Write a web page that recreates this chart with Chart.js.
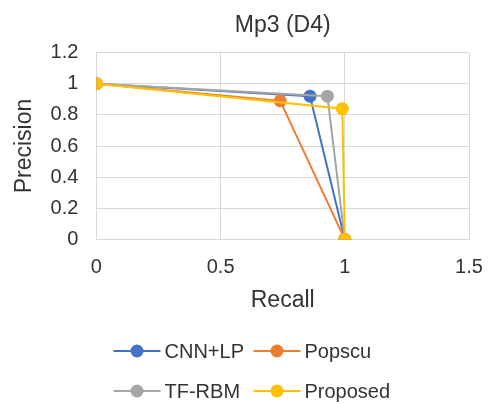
<!DOCTYPE html>
<html>
<head>
<meta charset="utf-8">
<script src="https://cdn.jsdelivr.net/npm/chart.js@4.4.0/dist/chart.umd.min.js"></script>
<style>
html, body { margin: 0; padding: 0; background: #fff; }
#wrap { width: 491px; height: 404px; }
</style>
</head>
<body>
<div id="wrap"><canvas id="myChart"></canvas></div>
<script>
// series names and colours (Excel default palette)
const seriesNames = ['CNN+LP', 'Popscu', 'TF-RBM', 'Proposed'];
const seriesColors = ['#4472C4', '#ED7D31', '#A5A5A5', '#FFC000'];

// recall / precision per series
const recallCNN = [0, 0.86, 1];
const precisionCNN = [1, 0.92, 0];
const recallPopscu = [0, 0.74, 1];
const precisionPopscu = [1, 0.89, 0];
const recallTFRBM = [0, 0.93, 1];
const precisionTFRBM = [1, 0.92, 0];
const recallProposed = [0, 0.99, 1];
const precisionProposed = [1, 0.84, 0];

// axis tick labels
const xTickLabels = ['0', '0.5', '1', '1.5'];
const yTickLabels = ['0', '0.2', '0.4', '0.6', '0.8', '1', '1.2'];

const textColor = '#333333';
const fontFamily = '"Liberation Sans", Arial, sans-serif';
Chart.defaults.font.family = fontFamily;
Chart.defaults.color = textColor;

const recalls = [recallCNN, recallPopscu, recallTFRBM, recallProposed];
const precisions = [precisionCNN, precisionPopscu, precisionTFRBM, precisionProposed];

const datasets = seriesNames.map((name, i) => ({
    label: name,
    data: recalls[i].map((r, j) => ({ x: r, y: precisions[i][j] })),
    showLine: true,
    borderColor: seriesColors[i],
    backgroundColor: seriesColors[i],
    borderWidth: 2,
    pointRadius: 6.5,
    pointBorderWidth: 0,
    pointHoverRadius: 6.5,
    order: seriesNames.length - 1 - i // later series on top, like Excel
}));

// legend drawn as a 2x2 grid, line + marker like Excel
const gridLegend = {
    id: 'gridLegend',
    afterDraw(chart) {
        const ctx = chart.ctx;
        const colW = 140;
        const left = chart.width / 2 - 132;
        const rowsY = [chart.height - 53, chart.height - 13];
        ctx.save();
        ctx.font = '20px ' + fontFamily;
        ctx.textBaseline = 'middle';
        ctx.textAlign = 'left';
        seriesNames.forEach((name, i) => {
            const x = left + (i % 2) * colW;
            const y = rowsY[Math.floor(i / 2)];
            ctx.strokeStyle = seriesColors[i];
            ctx.lineWidth = 2;
            ctx.beginPath();
            ctx.moveTo(x, y);
            ctx.lineTo(x + 47, y);
            ctx.stroke();
            ctx.fillStyle = seriesColors[i];
            ctx.beginPath();
            ctx.arc(x + 23.5, y, 6.5, 0, Math.PI * 2);
            ctx.fill();
            ctx.fillStyle = textColor;
            ctx.fillText(name, x + 51, y + 1);
        });
        ctx.restore();
    }
};

const ctx = document.getElementById('myChart').getContext('2d');
new Chart(ctx, {
    type: 'scatter',
    data: { datasets: datasets },
    options: {
        responsive: true,
        maintainAspectRatio: false,
        animation: false,
        layout: {
            padding: { left: 7, right: 22, top: 12, bottom: 90 }
        },
        plugins: {
            legend: { display: false },
            tooltip: { enabled: false },
            title: {
                display: true,
                text: 'Mp3 (D4)',
                fullSize: false,
                color: textColor,
                font: { size: 23, weight: 'normal' },
                padding: { top: 0, bottom: 13 }
            }
        },
        scales: {
            x: {
                type: 'linear',
                min: 0,
                max: 1.5,
                ticks: {
                    stepSize: 0.5,
                    padding: 1,
                    font: { size: 20 },
                    color: textColor,
                    callback: (v, i) => xTickLabels[i]
                },
                grid: { color: '#d9d9d9', tickLength: 15, tickColor: 'rgba(0,0,0,0)' },
                border: { color: '#d9d9d9' },
                title: {
                    display: true,
                    text: 'Recall',
                    font: { size: 23 },
                    color: textColor,
                    padding: { top: 6, bottom: 0 }
                }
            },
            y: {
                min: 0,
                max: 1.2,
                ticks: {
                    stepSize: 0.2,
                    padding: 1,
                    font: { size: 20 },
                    color: textColor,
                    callback: (v, i) => yTickLabels[i]
                },
                grid: { color: '#d9d9d9', tickLength: 17, tickColor: 'rgba(0,0,0,0)' },
                border: { color: '#d9d9d9' },
                title: {
                    display: true,
                    text: 'Precision',
                    font: { size: 23 },
                    color: textColor,
                    padding: { top: 4, bottom: 11 }
                }
            }
        }
    },
    plugins: [gridLegend]
});
</script>
</body>
</html>
